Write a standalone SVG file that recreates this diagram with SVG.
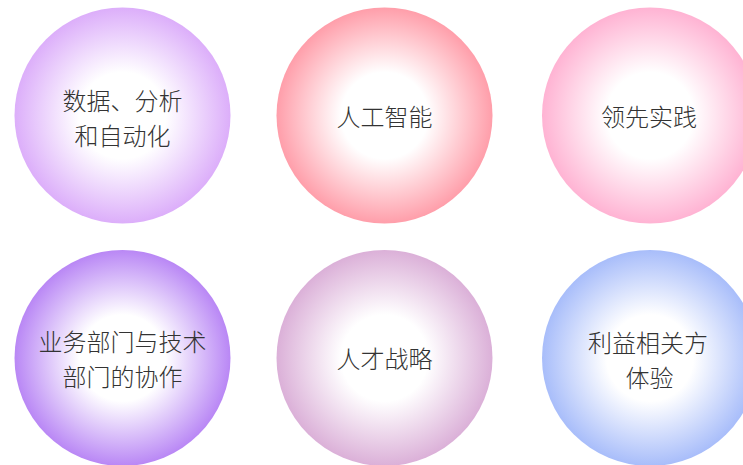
<svg xmlns="http://www.w3.org/2000/svg" width="743" height="465" viewBox="0 0 743 465">
<style>
text{font-family:"Noto Sans CJK SC","Noto Sans",sans-serif;font-size:24px;font-weight:300;fill:#333;text-anchor:middle;dominant-baseline:central}
</style>
<defs>
<radialGradient id="g1"><stop offset="0.4" stop-color="#fff"/><stop offset="1" stop-color="#dcaefa"/></radialGradient>
<radialGradient id="g2"><stop offset="0.4" stop-color="#fff"/><stop offset="1" stop-color="#ff9eaa"/></radialGradient>
<radialGradient id="g3"><stop offset="0.4" stop-color="#fff"/><stop offset="1" stop-color="#ffb3d3"/></radialGradient>
<radialGradient id="g4"><stop offset="0.4" stop-color="#fff"/><stop offset="1" stop-color="#b987f5"/></radialGradient>
<radialGradient id="g5"><stop offset="0.4" stop-color="#fff"/><stop offset="1" stop-color="#dbb0d8"/></radialGradient>
<radialGradient id="g6"><stop offset="0.4" stop-color="#fff"/><stop offset="1" stop-color="#a8bdfa"/></radialGradient>
</defs>
<g id="connectors"/>
<g id="n1"><circle cx="122.5" cy="115.5" r="108" fill="url(#g1)"/><text x="122.5" y="99">数据、分析</text><text x="122.5" y="134">和自动化</text></g>
<g id="n2"><circle cx="384.5" cy="115.5" r="108" fill="url(#g2)"/><text x="384.5" y="115">人工智能</text></g>
<g id="n3"><circle cx="650" cy="115.5" r="108" fill="url(#g3)"/><text x="649" y="115">领先实践</text></g>
<g id="n4"><circle cx="122.5" cy="358" r="108" fill="url(#g4)"/><text x="122.5" y="340">业务部门与技术</text><text x="122.5" y="375">部门的协作</text></g>
<g id="n5"><circle cx="384.5" cy="358" r="108" fill="url(#g5)"/><text x="384.5" y="357">人才战略</text></g>
<g id="n6"><circle cx="650" cy="358" r="108" fill="url(#g6)"/><text x="648" y="341">利益相关方</text><text x="649.5" y="376">体验</text></g>
</svg>
